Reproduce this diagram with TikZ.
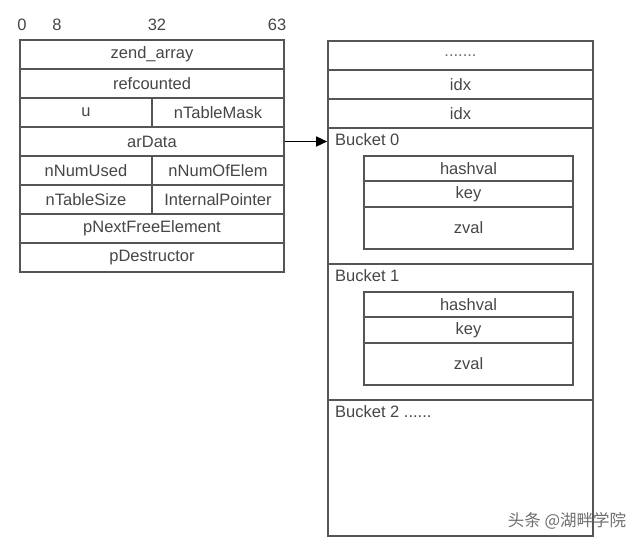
\documentclass[tikz,border=0pt]{standalone}
\usepackage{fontspec}
\setmainfont{Liberation Sans}
\newfontfamily\cjk{Noto Sans CJK SC}
\definecolor{cellline}{RGB}{85,85,85}
\definecolor{celltext}{RGB}{70,70,70}
\definecolor{markgray}{RGB}{110,110,110}
\usetikzlibrary{arrows.meta,positioning}
\tikzset{
  cell/.style={draw=cellline, line width=1.6pt, inner sep=0pt, text=celltext, font=\fontsize{16.5}{19}\selectfont},
  fullcell/.style={cell, minimum width=264pt, minimum height=29pt},
  halfcell/.style={cell, minimum width=132pt, minimum height=29pt},
  bucketbox/.style={draw=cellline, line width=1.6pt, inner sep=0pt, minimum width=265pt, minimum height=136pt},
  field/.style={cell, minimum width=209pt},
  plain/.style={inner sep=0pt, text=celltext, font=\fontsize{16.5}{19}\selectfont}
}

\begin{document}
\begin{tikzpicture}[x=1pt, y=-1pt]
  \useasboundingbox (0,0) rectangle (640,545);

  %--- zend_array layout ---
  \node[plain] (b0) at (22,25) {0};
  \node[plain] (b8) at (57,25) {8};
  \node[plain] (b32) at (157,25) {32};
  \node[plain] (b63) at (277,25) {63};

  \node[fullcell] (zend) at (152,54.5) {zend\_array};
  \node[fullcell] (refc) at (152,83.5) {refcounted};
  \node[halfcell] (u) at (86,112.5) {u};
  \node[halfcell] (mask) at (218,112.5) {nTableMask};
  \node[fullcell] (ardata) at (152,141.5) {arData};
  \node[halfcell] (used) at (86,170.5) {nNumUsed};
  \node[halfcell] (nelem) at (218,170.5) {nNumOfElem};
  \node[halfcell] (tsize) at (86,199.5) {nTableSize};
  \node[halfcell] (iptr) at (218,199.5) {InternalPointer};
  \node[fullcell] (pnext) at (152,228.5) {pNextFreeElement};
  \node[fullcell] (pdes) at (152,257.5) {pDestructor};

  %--- arData memory ---
  \node[fullcell, minimum width=265pt, text=markgray] (dots) at (460.5,55.5) {.......};
  \node[fullcell, minimum width=265pt] (idxa) at (460.5,84.5) {idx};
  \node[fullcell, minimum width=265pt] (idxb) at (460.5,113.5) {idx};

  % Buckets
  \node[bucketbox] (bkt0) at (460.5,196) {};
  \node[bucketbox] (bkt1) at (460.5,332) {};
  \node[bucketbox] (bkt2) at (460.5,468) {};
  \node[plain, anchor=west] (lbl0) at (335,140) {Bucket 0};
  \node[plain, anchor=west] (lbl1) at (335,276) {Bucket 1};
  \node[plain, anchor=west] (lbl2) at (335,412) {Bucket 2 ......};

  % Bucket 0 fields
  \node[field, minimum height=25pt] (hash0) at (468.5,168.5) {hashval};
  \node[field, minimum height=26pt] (key0) at (468.5,194) {key};
  \node[field, minimum height=42pt] (zval0) at (468.5,228) {zval};
  % Bucket 1 fields
  \node[field, minimum height=25pt] (hash1) at (468.5,304.5) {hashval};
  \node[field, minimum height=26pt] (key1) at (468.5,330) {key};
  \node[field, minimum height=42pt] (zval1) at (468.5,364) {zval};

  \draw[-{Triangle[length=11pt, width=10pt]}, line width=1.5pt, black] (ardata.east) -- (ardata.east -| bkt0.west);

  % watermark
  \node[plain, text=markgray] (mark) at (567,521) {\cjk 头条 @湖畔学院};
\end{tikzpicture}
\end{document}
